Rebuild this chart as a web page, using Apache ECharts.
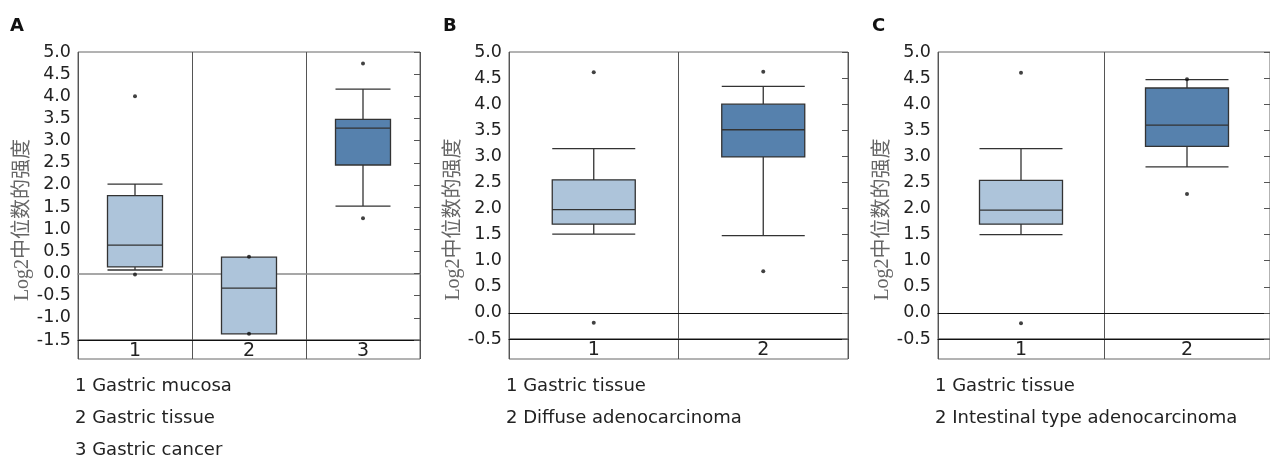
<!DOCTYPE html>
<html>
<head>
<meta charset="utf-8">
<script src="https://cdn.jsdelivr.net/npm/echarts@6/dist/echarts.min.js"></script>
<style>
  html, body { margin: 0; padding: 0; background: #fff; }
  #chart { width: 1270px; height: 457px; }
</style>
</head>
<body>
<div id="chart"></div>
<script>
  // 面板 A
  const catsA = ['1', '2', '3'];
  // [下须, Q1, 中位数, Q3, 上须]
  const boxA = [
    [0.08, 0.15, 0.64, 1.76, 2.02],
    [-1.36, -1.36, -0.33, 0.37, 0.37],
    [1.52, 2.45, 3.28, 3.48, 4.16]
  ];
  const dotsA = [[0, 4.0], [0, -0.02], [1, 0.38], [1, -1.36], [2, 4.74], [2, 1.25]];
  const yRangeA = [-1.5, 5.0];
  const legendA = ['1 Gastric mucosa', '2 Gastric tissue', '3 Gastric cancer'];

  // 面板 B
  const catsB = ['1', '2'];
  const boxB = [
    [1.51, 1.70, 1.98, 2.55, 3.15],
    [1.48, 2.99, 3.51, 4.00, 4.34]
  ];
  const dotsB = [[0, 4.61], [0, -0.19], [1, 4.62], [1, 0.80]];
  const yRangeB = [-0.5, 5.0];
  const legendB = ['1 Gastric tissue', '2 Diffuse adenocarcinoma'];

  // 面板 C
  const catsC = ['1', '2'];
  const boxC = [
    [1.50, 1.70, 1.97, 2.54, 3.15],
    [2.80, 3.19, 3.60, 4.31, 4.47]
  ];
  const dotsC = [[0, 4.60], [0, -0.20], [1, 4.48], [1, 2.28]];
  const yRangeC = [-0.5, 5.0];
  const legendC = ['1 Gastric tissue', '2 Intestinal type adenocarcinoma'];

  const light = '#adc4da';
  const dark = '#5681ad';
  const plotTop = 52;
  const plotBottom = 359;

  const panels = [
    {letter: 'A', letterX: 10, cats: catsA, box: boxA, dots: dotsA, range: yRangeA, legend: legendA,
      colors: [light, light, dark], left: 78, width: 342, sep: 340, boxW: 55, zeroColor: '#8a8a8a', zeroW: 1.5},
    {letter: 'B', letterX: 443, cats: catsB, box: boxB, dots: dotsB, range: yRangeB, legend: legendB,
      colors: [light, dark], left: 509, width: 339, sep: 339, boxW: 83, zeroColor: '#111', zeroW: 1},
    {letter: 'C', letterX: 872, cats: catsC, box: boxC, dots: dotsC, range: yRangeC, legend: legendC,
      colors: [light, dark], left: 938, width: 337, sep: 339, boxW: 83, zeroColor: '#111', zeroW: 1}
  ];

  const grid = [], xAxis = [], yAxis = [], series = [], graphic = [];

  panels.forEach((p, i) => {
    const g = i * 2;
    const y = i * 3;
    grid.push({left: p.left, top: plotTop, width: p.width, height: p.sep - plotTop,
      show: true, borderColor: '#666', borderWidth: 1});
    grid.push({left: p.left, top: p.sep, width: p.width, height: plotBottom - p.sep,
      show: true, borderColor: '#666', borderWidth: 1});

    // 主图的类别轴：轴线落在 0 上
    xAxis.push({
      type: 'category', gridIndex: g, data: p.cats,
      axisLine: {onZero: true, lineStyle: {color: p.zeroColor, width: p.zeroW}},
      axisTick: {show: false}, axisLabel: {show: false},
      splitLine: {show: true, lineStyle: {color: '#555'}}
    });
    // 下方标签条
    xAxis.push({
      type: 'category', gridIndex: g + 1, position: 'top', data: p.cats,
      axisLine: {onZero: false, lineStyle: {color: '#111'}},
      axisTick: {show: false},
      axisLabel: {inside: true, margin: 2, color: '#222', fontSize: 19, fontFamily: 'DejaVu Sans'},
      splitLine: {show: true, lineStyle: {color: '#555'}}
    });

    yAxis.push({
      type: 'value', gridIndex: g, position: 'left', min: p.range[0], max: p.range[1], interval: 0.5,
      name: 'Log2中位数的强度', nameLocation: 'middle', nameGap: 44,
      nameTextStyle: {color: '#666', fontSize: 20, fontFamily: 'Liberation Serif, Noto Sans CJK SC', padding: [0, 48, 0, 0]},
      axisLine: {show: false}, axisTick: {show: false}, splitLine: {show: false},
      axisLabel: {color: '#222', fontSize: 17.5, fontFamily: 'DejaVu Sans', margin: 7,
        formatter: v => v.toFixed(1)}
    });
    yAxis.push({
      type: 'value', gridIndex: g, position: 'right', min: p.range[0], max: p.range[1], interval: 0.5,
      axisLine: {show: false}, splitLine: {show: false}, axisLabel: {show: false},
      axisTick: {show: true, inside: true, length: 6, lineStyle: {color: '#555'}}
    });
    yAxis.push({type: 'value', gridIndex: g + 1, min: 0, max: 1, show: false});

    series.push({
      type: 'boxplot', xAxisIndex: g, yAxisIndex: y, boxWidth: [p.boxW, p.boxW],
      data: p.box.map((v, k) => ({value: v, itemStyle: {color: p.colors[k], borderColor: '#333', borderWidth: 1.3}})),
      emphasis: {disabled: true}
    });
    series.push({
      type: 'scatter', xAxisIndex: g, yAxisIndex: y, symbolSize: 4,
      itemStyle: {color: '#111'}, data: p.dots, emphasis: {disabled: true}
    });

    graphic.push({type: 'text', left: p.letterX, top: 17,
      style: {text: p.letter, font: 'bold 18px "DejaVu Sans"', fill: '#111'}});
    p.legend.forEach((t, k) => {
      graphic.push({type: 'text', x: p.left - 3, y: 386 + k * 32,
        style: {text: t, font: '18px "DejaVu Sans"', fill: '#222', verticalAlign: 'middle'}});
    });
  });

  const myChart = echarts.init(document.getElementById('chart'));
  myChart.setOption({
    animation: false,
    grid: grid,
    xAxis: xAxis,
    yAxis: yAxis,
    series: series,
    graphic: graphic
  });
</script>
</body>
</html>
